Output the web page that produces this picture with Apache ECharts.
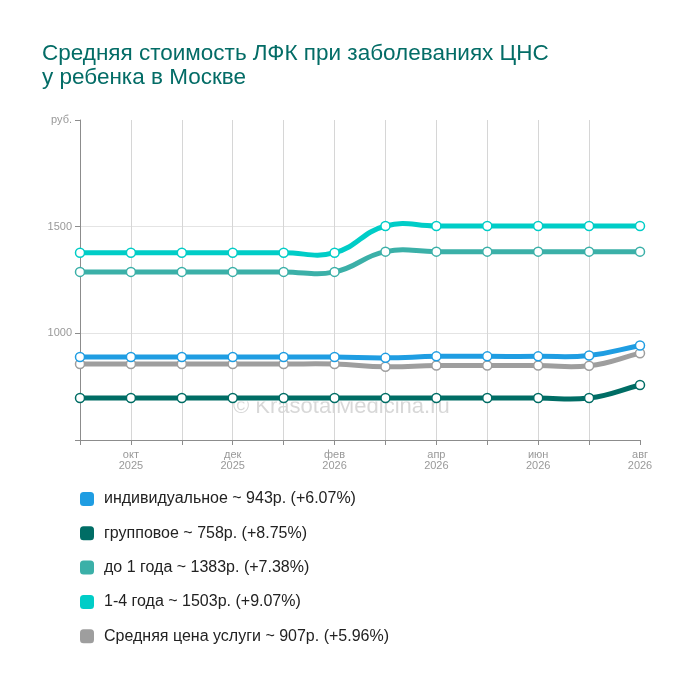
<!DOCTYPE html>
<html>
<head>
<meta charset="utf-8">
<script src="https://cdn.jsdelivr.net/npm/echarts@6/dist/echarts.min.js"></script>
<style>
html,body{margin:0;padding:0;background:#fff;}
#chart{width:700px;height:685px;}
</style>
</head>
<body>
<div id="chart"></div>
<script>
var months=['сен\n2025','окт\n2025','ноя\n2025','дек\n2025','янв\n2026','фев\n2026','мар\n2026','апр\n2026','май\n2026','июн\n2026','июл\n2026','авг\n2026'];
var individ=[889,889,889,889,889,889,885,892,892,892,896,943];
var group=[697,697,697,697,697,697,697,697,697,697,697,758];
var upTo1=[1288,1288,1288,1288,1288,1288,1383,1383,1383,1383,1383,1383];
var age1to4=[1378,1378,1378,1378,1378,1378,1503,1503,1503,1503,1503,1503];
var average=[856,856,856,856,856,856,843,849,849,849,848,907];
var names=['индивидуальное ~ 943р. (+6.07%)','групповое ~ 758р. (+8.75%)','до 1 года ~ 1383р. (+7.38%)','1-4 года ~ 1503р. (+9.07%)','Средняя цена услуги ~ 907р. (+5.96%)'];
var colors=['#1f9de2','#006d65','#3bb0a8','#00cdc7','#9e9e9e'];
var allData=[individ,group,upTo1,age1to4,average];

var tension=0.45;
var chart=echarts.init(document.getElementById('chart'));

// вертикальные линии сетки: без первой и последней
var vColors=[];
for(var i=0;i<months.length;i++){
	vColors.push(i==0||i==months.length-1?'rgba(0,0,0,0)':'#d6d6d6');
}

// сплайн без ограничения выбросов (как на исходной картинке)
function makeCurve(name,values,color){
	return {
		name:name,
		type:'custom',
		color:color,
		itemStyle:{color:color},
		data:values.map(function(v,i){return [i,v];}),
		renderItem:function(params,api){
			if(params.dataIndex!==0) return null;
			var pts=[];
			for(var i=0;i<values.length;i++){
				pts.push(api.coord([i,values[i]]));
			}
			var n=pts.length;
			var cpPrev=[],cpNext=[];
			for(var i=0;i<n;i++){
				var p=pts[i],a=pts[i>0?i-1:i],b=pts[i<n-1?i+1:i];
				var d01=Math.sqrt(Math.pow(p[0]-a[0],2)+Math.pow(p[1]-a[1],2));
				var d12=Math.sqrt(Math.pow(b[0]-p[0],2)+Math.pow(b[1]-p[1],2));
				var s01=d01/(d01+d12),s12=d12/(d01+d12);
				if(isNaN(s01)) s01=0;
				if(isNaN(s12)) s12=0;
				var fa=tension*s01,fb=tension*s12;
				cpPrev[i]=[p[0]-fa*(b[0]-a[0]),p[1]-fa*(b[1]-a[1])];
				cpNext[i]=[p[0]+fb*(b[0]-a[0]),p[1]+fb*(b[1]-a[1])];
			}
			var children=[];
			var widths=[[7,'#fff'],[5,color]];
			for(var w=0;w<widths.length;w++){
				for(var i=0;i<n-1;i++){
					children.push({
						type:'bezierCurve',
						shape:{x1:pts[i][0],y1:pts[i][1],cpx1:cpNext[i][0],cpy1:cpNext[i][1],cpx2:cpPrev[i+1][0],cpy2:cpPrev[i+1][1],x2:pts[i+1][0],y2:pts[i+1][1]},
						style:{fill:null,stroke:widths[w][1],lineWidth:widths[w][0],lineCap:'round'}
					});
				}
			}
			for(var i=0;i<n;i++){
				children.push({
					type:'circle',
					shape:{cx:pts[i][0],cy:pts[i][1],r:4.5},
					style:{fill:'#fff',stroke:color,lineWidth:1.5}
				});
			}
			return {type:'group',children:children};
		}
	};
}

var series=[];
// первая серия рисуется поверх остальных
for(var s=allData.length-1;s>=0;s--){
	series.push(makeCurve(names[s],allData[s],colors[s]));
}

var option={
	backgroundColor:'#fff',
	animation:false,
	title:{
		text:'Средняя стоимость ЛФК при заболеваниях ЦНС\nу ребенка в Москве',
		left:37,
		top:37,
		textStyle:{fontFamily:'Arial, Liberation Sans',fontSize:22.5,fontWeight:'normal',color:'#036c66',lineHeight:24}
	},
	graphic:[{
		type:'text',
		left:233,
		top:396,
		z:-1,
		style:{text:'© KrasotaiMedicina.ru',font:'22px Arial, Liberation Sans',fill:'#d8d8d8'}
	}],
	legend:{
		orient:'vertical',
		left:75,
		top:486,
		itemWidth:14,
		itemHeight:14,
		itemGap:18.3,
		icon:'roundRect',
		selectedMode:false,
		data:names.map(function(n,i){return {name:n,icon:'roundRect',itemStyle:{color:colors[i],borderWidth:0}};}),
		textStyle:{fontFamily:'Arial, Liberation Sans',fontSize:16,lineHeight:16,color:'#222',padding:[0,0,0,5]}
	},
	grid:{left:80,right:60,top:120,bottom:245,containLabel:false},
	xAxis:{
		type:'category',
		boundaryGap:false,
		data:months,
		axisLine:{lineStyle:{color:'#8c8c8c'}},
		axisTick:{show:true,interval:0,length:5,lineStyle:{color:'#8c8c8c'}},
		axisLabel:{
			interval:function(i){return i%2==1;},
			color:'#999',
			fontFamily:'Arial, Liberation Sans',
			fontSize:11,
			lineHeight:11,
			margin:9
		},
		splitLine:{show:true,interval:0,lineStyle:{color:vColors,width:1}}
	},
	yAxis:{
		type:'value',
		min:500,
		max:2000,
		interval:500,
		axisLine:{show:true,lineStyle:{color:'#8c8c8c'}},
		axisTick:{show:true,length:5,lineStyle:{color:'#8c8c8c'}},
		axisLabel:{
			color:'#999',
			fontFamily:'Arial, Liberation Sans',
			fontSize:11,
			margin:8,
			formatter:function(v){
				if(v==2000) return 'руб.';
				if(v==500) return '';
				return v;
			}
		},
		splitLine:{show:true,lineStyle:{color:['rgba(0,0,0,0)','#e4e4e4','#e4e4e4','rgba(0,0,0,0)'],width:1}}
	},
	series:series
};
chart.setOption(option);
</script>
</body>
</html>
